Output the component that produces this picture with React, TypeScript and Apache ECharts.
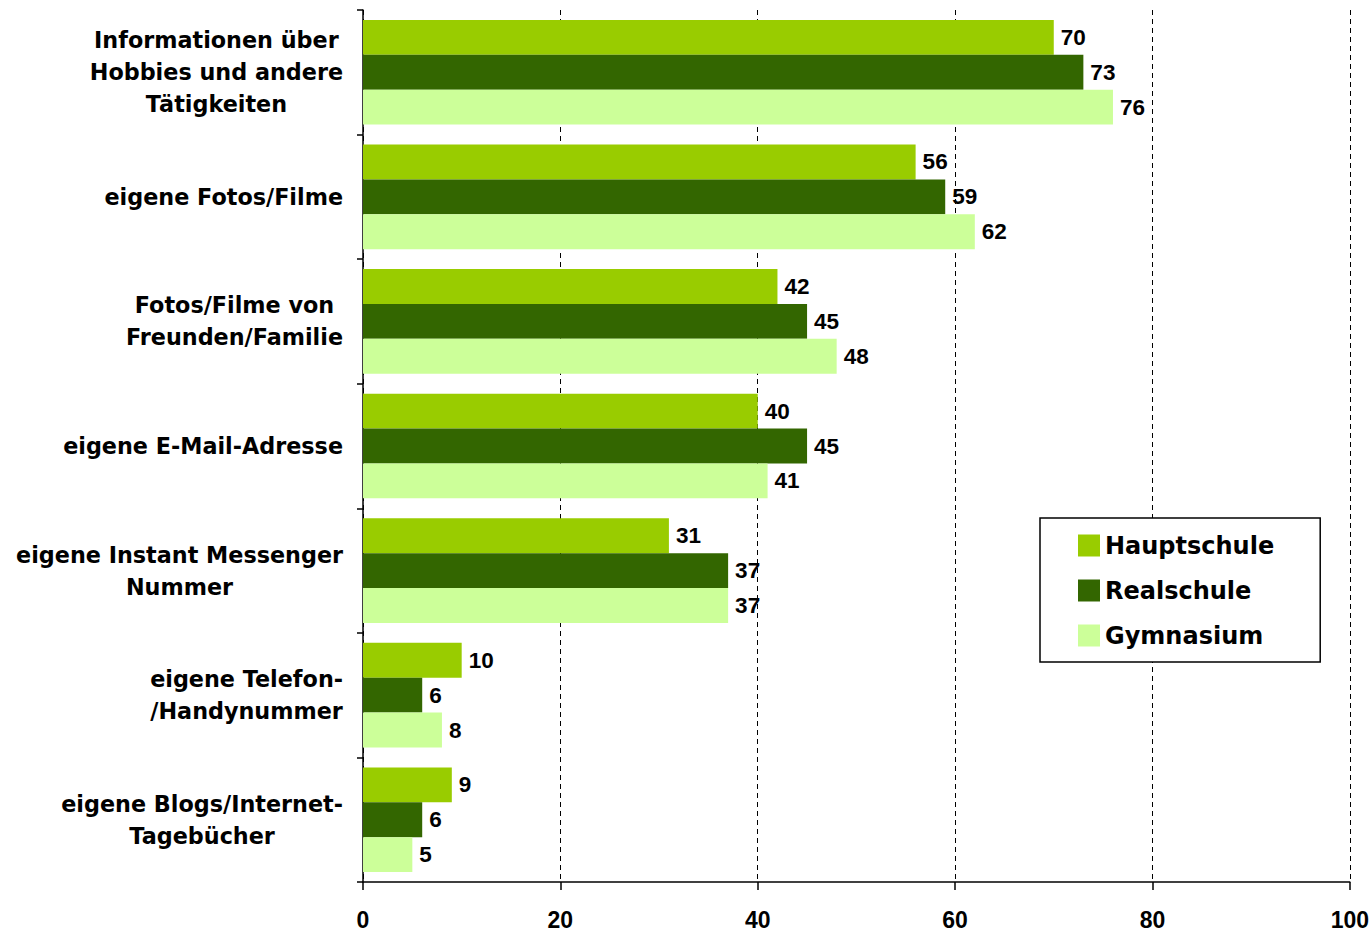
import React, { useEffect, useRef } from "react";
import * as echarts from "echarts";

const categories = [
  "Informationen über\nHobbies und andere\nTätigkeiten",
  "eigene Fotos/Filme",
  "Fotos/Filme von\nFreunden/Familie",
  "eigene E-Mail-Adresse",
  "eigene Instant Messenger\nNummer",
  "eigene Telefon-\n/Handynummer",
  "eigene Blogs/Internet-\nTagebücher",
];
const seriesNames = ["Hauptschule", "Realschule", "Gymnasium"];
const hauptschule = [70, 56, 42, 40, 31, 10, 9];
const realschule = [73, 59, 45, 45, 37, 6, 6];
const gymnasium = [76, 62, 48, 41, 37, 8, 5];
const colors = ["#99CC00", "#336600", "#CCFF99"];

export default function App() {
  const ref = useRef<HTMLDivElement>(null);
  useEffect(() => {
    if (!ref.current) return;
    const chart = echarts.init(ref.current, null, { renderer: "svg" });
    const values = [hauptschule, realschule, gymnasium];
    chart.setOption({
      animation: false,
      backgroundColor: "#ffffff",
      grid: { left: 363, right: 21, top: 10, bottom: 53, containLabel: false },
      legend: {
        orient: "vertical",
        left: 1040,
        top: 518,
        data: seriesNames,
        backgroundColor: "#ffffff",
        borderColor: "#000000",
        borderWidth: 1.5,
        padding: [14, 46, 13, 38],
        itemWidth: 22,
        itemHeight: 22,
        itemGap: 18,
        icon: "rect",
        textStyle: {
          fontFamily: "DejaVu Sans",
          fontWeight: "bold",
          fontSize: 24,
          color: "#000000",
          lineHeight: 27,
        },
        z: 10,
      },
      xAxis: {
        type: "value",
        min: 0,
        max: 100,
        interval: 20,
        axisLine: { show: true, lineStyle: { color: "#000000", width: 1.5 } },
        axisTick: { show: true, length: 8, lineStyle: { color: "#000000", width: 1.5 } },
        axisLabel: {
          margin: 26,
          fontFamily: "Liberation Sans",
          fontWeight: "bold",
          fontSize: 23,
          color: "#000000",
        },
        splitLine: {
          show: true,
          lineStyle: { color: "#000000", width: 1, type: [5, 4] },
        },
      },
      yAxis: {
        type: "category",
        data: categories,
        inverse: true,
        axisLine: { show: true, lineStyle: { color: "#000000", width: 1.5 } },
        axisTick: { show: true, length: 6, lineStyle: { color: "#000000", width: 1.5 } },
        axisLabel: {
          margin: 20,
          formatter: (v: string) =>
            v
              .split("\n")
              .map((l) => `{c|${l}}`)
              .join("\n"),
          rich: {
            c: {
              align: "center",
              fontFamily: "DejaVu Sans",
              fontWeight: "bold",
              fontSize: 22.3,
              lineHeight: 32,
              color: "#000000",
            },
          },
        },
        splitLine: { show: false },
      },
      series: seriesNames.map((name, i) => ({
        name,
        type: "bar",
        data: values[i],
        barGap: "0%",
        barCategoryGap: "16%",
        itemStyle: { color: colors[i] },
        label: {
          show: true,
          position: "right",
          distance: 7,
          fontFamily: "Liberation Sans",
          fontWeight: "bold",
          fontSize: 22.5,
          color: "#000000",
        },
      })),
    });
    return () => chart.dispose();
  }, []);
  return (
    <div
      ref={ref}
      style={{ position: "fixed", left: 0, top: 0, width: 1372, height: 935 }}
    />
  );
}
